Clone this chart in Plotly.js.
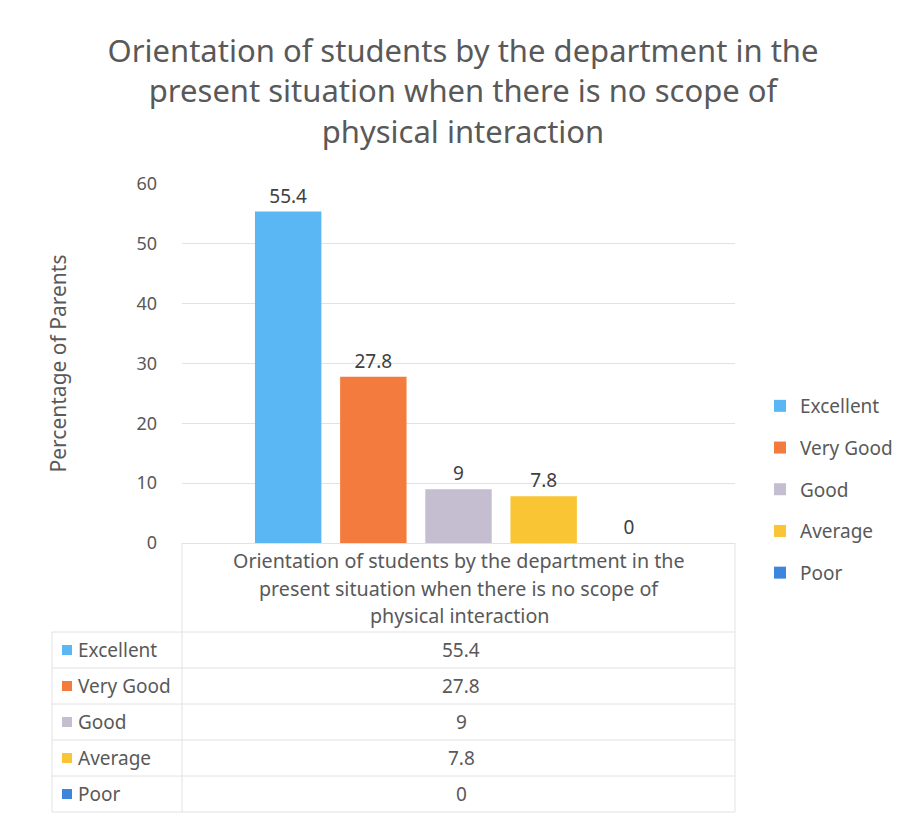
<!DOCTYPE html>
<html>
<head>
<meta charset="utf-8">
<script src="https://cdn.plot.ly/plotly-3.0.1.min.js"></script>
<style>html,body{margin:0;padding:0;background:#fff;}#chart{width:901px;height:817px;}</style>
</head>
<body>
<div id="chart"></div>
<script>
const categories = ['Excellent', 'Very Good', 'Good', 'Average', 'Poor'];
const values = [55.4, 27.8, 9, 7.8, 0];
const colors = ['#5BB7F3', '#F47B3E', '#C5BDD0', '#F9C534', '#3D86DE'];
const groupLines = ['Orientation of students by the department in the', 'present situation when there is no scope of', 'physical interaction'];
const yTicks = [0, 10, 20, 30, 40, 50, 60];
const titleText = 'Orientation of students by the department in the<br>present situation when there is no scope of<br>physical interaction';
const yTitle = 'Percentage of Parents';

const W = 901, H = 817;
const L = 182, R = 735, T = 184, B = 543;
const px = x => (x - L) / (R - L);
const py = y => (B - y) / (B - T);
const FONT = 'Noto Sans, sans-serif';
const GREY = '#595959';
const LINE = '#E2E2E2';

const groupKey = groupLines.join(' ');
const traces = categories.map((c, i) => ({
  type: 'bar',
  name: c,
  x: [groupKey],
  y: [values[i]],
  marker: { color: colors[i] },
  text: [String(values[i])],
  textposition: 'outside',
  textfont: { family: FONT, size: 19, color: '#404040' },
  cliponaxis: false,
  legendgroup: 'g' + i,
  hoverinfo: 'skip'
}));

const shapes = [];
const annotations = [];
const rowLines = [632, 668, 704, 740, 776, 812];
rowLines.forEach(y => shapes.push({ type: 'line', xref: 'paper', yref: 'paper', x0: px(52), x1: px(735), y0: py(y), y1: py(y), line: { color: LINE, width: 1 } }));
shapes.push({ type: 'line', xref: 'paper', yref: 'paper', x0: px(182), x1: px(182), y0: py(543), y1: py(812), line: { color: LINE, width: 1 } });
shapes.push({ type: 'line', xref: 'paper', yref: 'paper', x0: px(735), x1: px(735), y0: py(543), y1: py(812), line: { color: LINE, width: 1 } });
shapes.push({ type: 'line', xref: 'paper', yref: 'paper', x0: px(52), x1: px(52), y0: py(632), y1: py(812), line: { color: LINE, width: 1 } });

const headerY = [560, 588, 615];
groupLines.forEach((t, k) => annotations.push({ xref: 'paper', yref: 'paper', x: px(459), y: py(headerY[k]), text: t, showarrow: false, xanchor: 'center', yanchor: 'middle', font: { family: FONT, size: 19.7, color: GREY } }));

categories.forEach((c, i) => {
  const yc = 650 + i * 36;
  shapes.push({ type: 'rect', xref: 'paper', yref: 'paper', x0: px(62), x1: px(72), y0: py(yc - 5), y1: py(yc + 5), fillcolor: colors[i], line: { width: 0 } });
  annotations.push({ xref: 'paper', yref: 'paper', x: px(76), y: py(yc), text: c, showarrow: false, xanchor: 'left', yanchor: 'middle', font: { family: FONT, size: 19, color: GREY } });
  annotations.push({ xref: 'paper', yref: 'paper', x: px(461), y: py(yc), text: String(values[i]), showarrow: false, xanchor: 'center', yanchor: 'middle', font: { family: FONT, size: 19, color: GREY } });
});

const layout = {
  width: W, height: H,
  paper_bgcolor: '#ffffff', plot_bgcolor: '#ffffff',
  margin: { l: L, r: W - R, t: T, b: H - B, autoexpand: false },
  font: { family: FONT, color: GREY },
  title: { text: titleText, x: px(463), xref: 'paper', xanchor: 'center', y: 1 - 62 / H, yref: 'container', yanchor: 'top', font: { family: FONT, size: 31, color: GREY } },
  barmode: 'group',
  bargap: 0.23,
  bargroupgap: 0.22,
  showlegend: true,
  legend: { x: px(760), y: py(387), xanchor: 'left', yanchor: 'top', font: { family: FONT, size: 19, color: GREY }, tracegroupgap: 14, traceorder: 'grouped', itemwidth: 30, bgcolor: 'rgba(0,0,0,0)' },
  xaxis: { showticklabels: false, showgrid: false, zeroline: false, showline: false, fixedrange: true },
  yaxis: {
    range: [0, 60], tickvals: yTicks, ticktext: yTicks.map(String),
    showgrid: true, gridcolor: LINE, gridwidth: 1, zeroline: true, zerolinecolor: LINE, zerolinewidth: 1,
    showline: false, ticks: '', ticklabelstandoff: 24,
    tickfont: { family: FONT, size: 18, color: GREY },
    title: { text: yTitle, font: { family: FONT, size: 21, color: GREY }, standoff: 64 },
    automargin: false
  },
  shapes: shapes,
  annotations: annotations
};

Plotly.newPlot('chart', traces, layout, { displayModeBar: false, staticPlot: true });
</script>
</body>
</html>
